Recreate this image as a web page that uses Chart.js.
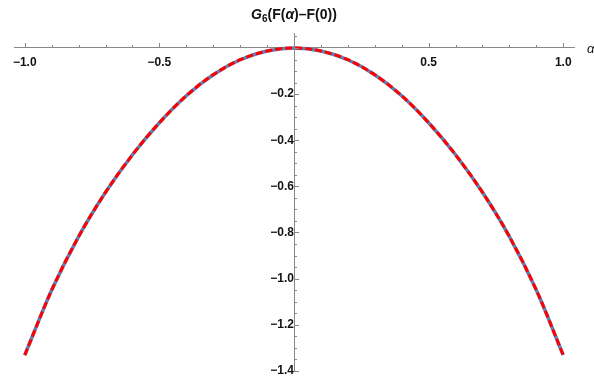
<!DOCTYPE html>
<html lang="en">
<head>
<meta charset="UTF-8">
<title>G6 plot</title>
<script src="https://cdn.jsdelivr.net/npm/chart.js"></script>
<style>
    body { margin: 0; background: #fff; }
</style>
</head>
<body>
<canvas id="canvas" width="594" height="383"></canvas>
<script>
    // values
    const alpha = [-1.0, -0.9, -0.8, -0.7, -0.6, -0.5, -0.4, -0.3, -0.2, -0.1, 0.0,
                   0.1, 0.2, 0.3, 0.4, 0.5, 0.6, 0.7, 0.8, 0.9, 1.0];
    const g6Exact = [-1.332, -1.05, -0.818, -0.626, -0.463, -0.324, -0.207, -0.116, -0.051, -0.013, 0,
                     -0.013, -0.051, -0.116, -0.207, -0.324, -0.463, -0.626, -0.818, -1.05, -1.332];
    const g6Approx = [-1.332, -1.05, -0.818, -0.626, -0.463, -0.324, -0.207, -0.116, -0.051, -0.013, 0,
                      -0.013, -0.051, -0.116, -0.207, -0.324, -0.463, -0.626, -0.818, -1.05, -1.332];
    const xTicks = [-1.0, -0.5, 0.5, 1.0];
    const yTicks = [-0.2, -0.4, -0.6, -0.8, -1.0, -1.2, -1.4];

    const labelFont = { family: 'Liberation Sans', size: 12, weight: 'bold' };
    const fmt = v => (v < 0 ? '\u2212' : '') + Math.abs(v).toFixed(1);

    // tick marks, title and axis label the way Mathematica draws them
    const decor = {
        id: 'decor',
        afterDraw(chart) {
            const { ctx, scales: { x, y } } = chart;
            const y0 = y.getPixelForValue(0);
            const x0 = x.getPixelForValue(0);
            ctx.save();
            ctx.strokeStyle = '#888';
            ctx.lineWidth = 1;
            ctx.beginPath();
            for (let i = -10; i <= 10; i++) {
                const px = Math.round(x.getPixelForValue(i / 10)) + 0.5;
                const len = i % 5 === 0 ? 5 : 3;
                ctx.moveTo(px, y0);
                ctx.lineTo(px, y0 - len);
            }
            for (let j = 1; j >= -28; j--) {
                const py = Math.round(y.getPixelForValue(j / 20)) + 0.5;
                const len = j % 4 === 0 ? 5 : 3;
                ctx.moveTo(x0, py);
                ctx.lineTo(x0 + len, py);
            }
            ctx.stroke();

            // title G6(F(alpha)-F(0))
            const parts = [
                ['G', 'italic bold 14px "Liberation Sans"', 0],
                ['6', 'bold 10px "Liberation Sans"', 3],
                ['(F(', 'bold 14px "Liberation Sans"', 0],
                ['\u03b1', 'italic bold 14px "Liberation Sans"', 0],
                [')\u2013F(0))', 'bold 14px "Liberation Sans"', 0]
            ];
            let w = 0;
            parts.forEach(p => { ctx.font = p[1]; w += ctx.measureText(p[0]).width; });
            let tx = x0 - w / 2;
            ctx.fillStyle = '#111';
            ctx.textBaseline = 'alphabetic';
            ctx.textAlign = 'left';
            parts.forEach(p => {
                ctx.font = p[1];
                ctx.fillText(p[0], tx, 19 + p[2]);
                tx += ctx.measureText(p[0]).width;
            });

            ctx.font = 'italic 13px "Liberation Sans"';
            ctx.fillText('\u03b1', 587, 53);
            ctx.restore();
        }
    };

    const ctx = document.getElementById('canvas').getContext('2d');
    const chart = new Chart(ctx, {
        type: 'line',
        data: {
            datasets: [{
                label: 'approx',
                data: alpha.map((a, i) => ({ x: a, y: g6Approx[i] })),
                borderColor: '#ff0000',
                borderWidth: 3,
                borderDash: [7, 3],
                pointRadius: 0,
                cubicInterpolationMode: 'monotone',
                order: 1
            }, {
                label: 'exact',
                data: alpha.map((a, i) => ({ x: a, y: g6Exact[i] })),
                borderColor: '#5e81b5',
                borderWidth: 3.5,
                pointRadius: 0,
                cubicInterpolationMode: 'monotone',
                order: 2
            }]
        },
        options: {
            responsive: false,
            animation: false,
            events: [],
            layout: { padding: { left: 14, right: 20, top: 33, bottom: 5 } },
            plugins: { legend: { display: false }, tooltip: { enabled: false } },
            scales: {
                x: {
                    type: 'linear',
                    min: -1.04,
                    max: 1.04,
                    position: { y: 0 },
                    afterBuildTicks: s => { s.ticks = xTicks.map(v => ({ value: v })); },
                    grid: { display: false, drawTicks: false },
                    border: { color: '#888', width: 1 },
                    ticks: { font: labelFont, color: '#111', padding: 7, autoSkip: false, maxRotation: 0, callback: fmt }
                },
                y: {
                    type: 'linear',
                    min: -1.4,
                    max: 0.065,
                    position: { x: 0 },
                    afterBuildTicks: s => { s.ticks = yTicks.map(v => ({ value: v })); },
                    grid: { display: false, drawTicks: false },
                    border: { color: '#888', width: 1 },
                    ticks: { font: labelFont, color: '#111', padding: 5, autoSkip: false, callback: fmt }
                }
            }
        },
        plugins: [decor]
    });
</script>
</body>
</html>
